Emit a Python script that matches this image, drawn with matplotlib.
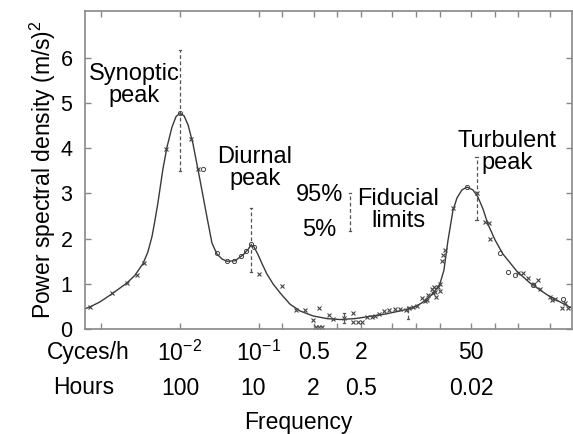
import numpy as np
import matplotlib
matplotlib.use("Agg")
import matplotlib.pyplot as plt

plt.rcParams['font.family'] = ['Liberation Sans', 'DejaVu Sans']

# smooth spectrum curve (frequency in cycles/h, PSD in (m/s)^2)
curve_f = [6.21e-4, 7.18e-4, 9.62e-4, 1.37e-3, 2.12e-3, 2.68e-3, 3.39e-3, 3.9e-3, 4.41e-3, 4.8e-3,
           5.25e-3, 5.65e-3, 6.08e-3, 6.84e-3, 7.91e-3, 8.89e-3, 0.0100, 0.01125, 0.01265,
           0.01462, 0.01795, 0.0220, 0.0255, 0.0295, 0.0342, 0.0395, 0.0500, 0.0632, 0.0731,
           0.0798, 0.0871, 0.0979, 0.110, 0.127, 0.152, 0.187, 0.250, 0.335, 0.490, 0.738, 1.08,
           1.67, 2.59, 4.03, 6.24, 9.14, 11.9, 15.0, 17.9, 20.1, 22.6, 25.4, 29.4, 33.1, 38.3,
           44.4, 52.8, 61.2, 70.8, 82.0, 101, 127, 191, 280, 460, 675, 957]
curve_s = [0.45, 0.49, 0.60, 0.78, 1.02, 1.19, 1.45, 1.70, 2.05, 2.40,
           2.80, 3.18, 3.55, 4.03, 4.47, 4.70, 4.78, 4.72, 4.52,
           4.10, 3.30, 2.48, 1.90, 1.66, 1.55, 1.50, 1.51, 1.64, 1.76,
           1.86, 1.82, 1.65, 1.45, 1.22, 1.00, 0.80, 0.55, 0.40, 0.29, 0.23, 0.21,
           0.23, 0.28, 0.33, 0.40, 0.47, 0.58, 0.72, 0.87, 1.00, 1.30, 1.95, 2.62, 2.90, 3.08,
           3.14, 3.08, 2.92, 2.66, 2.32, 1.97, 1.66, 1.28, 1.02, 0.76, 0.60, 0.46]

# measured estimates (x markers)
pts_f = [7.2e-4, 1.37e-3, 2.12e-3, 2.85e-3, 3.5e-3, 6.6e-3, 0.0138, 0.0169, 0.1, 0.2, 0.30,
         0.39, 0.49, 0.58, 0.53, 0.58, 0.63, 0.78, 0.88, 1.21, 1.58, 1.58, 1.83, 2.05, 2.38,
         2.75, 3.0, 3.4, 3.9, 4.5, 5.4, 6.2, 7.4, 8.1, 9.1, 10.2, 11.9, 12.9, 14.1, 15.9, 16.3,
         17.5, 13.8, 17.0, 17.8, 19.0, 20.0, 20.0, 21.4, 21.9, 23.3, 29.5, 59, 75, 85, 87, 197,
         229, 264, 320, 354, 375, 500, 533, 578, 780, 851, 714]
pts_s = [0.49, 0.80, 1.02, 1.19, 1.46, 3.98, 4.20, 3.54, 1.22, 0.95, 0.42,
         0.42, 0.20, 0.46, 0.04, 0.04, 0.04, 0.31, 0.22, 0.25, 0.35, 0.15, 0.15, 0.15, 0.27,
         0.27, 0.29, 0.33, 0.40, 0.42, 0.44, 0.44, 0.42, 0.46, 0.49, 0.51, 0.69, 0.62, 0.75, 0.88, 0.80,
         0.82, 0.64, 0.93, 0.71, 0.93, 1.00, 0.84, 1.50, 1.64, 1.75, 2.68, 3.01, 2.37, 2.35, 1.99, 1.24,
         1.24, 1.13, 1.00, 1.08, 0.88, 0.71, 0.64, 0.66, 0.57, 0.46, 0.46]

# measured estimates (circle markers)
circ_f = [0.01, 0.0196, 0.0295, 0.0396, 0.0486, 0.0596, 0.069, 0.0798, 0.087, 44, 116, 148, 182, 309, 737]
circ_s = [4.78, 3.54, 1.68, 1.50, 1.50, 1.61, 1.73, 1.88, 1.81, 3.14, 1.68, 1.26, 1.19, 0.97, 0.66]

# fiducial limits (5% .. 95%)
bar_f = [0.01, 0.0798, 1.21, 7.9, 59, 1.45]
bar_lo = [3.50, 1.26, 0.13, 0.22, 2.41, 2.17]
bar_hi = [6.17, 2.68, 0.35, 0.49, 3.81, 3.00]

xticks = [1e-3, 1e-2, 0.1, 0.2, 0.5, 1, 2, 5, 10, 20, 50, 100, 200, 500]
yticks = [0, 1, 2, 3, 4, 5, 6]
row_f = [1e-2, 1e-1, 0.5, 2, 50]
row_cycles = [r'$\mathregular{10^{-2}}$', r'$\mathregular{10^{-1}}$', '0.5', '2', '50']
hours_f = [1e-2, 0.085, 0.5, 2, 50]
row_hours = ['100', '10', '2', '0.5', '0.02']

fig = plt.figure(figsize=(5.73, 4.34), dpi=100)
ax = fig.add_axes([0.1483, 0.2419, 0.8497, 0.7328])

ax.plot(curve_f, curve_s, color='#3a3a3a', lw=1.0)
ax.plot(pts_f, pts_s, 'x', color='#444444', ms=2.5, mew=0.8)
ax.plot(circ_f, circ_s, 'o', mfc='none', mec='#444444', ms=3, mew=0.7)

for f, lo, hi in zip(bar_f, bar_lo, bar_hi):
    ax.plot([f, f], [lo, hi], color='#555555', lw=0.9, ls=(0, (3, 2)))
    ax.plot([f / 1.04, f * 1.04], [hi, hi], color='#555555', lw=0.9)
    ax.plot([f / 1.04, f * 1.04], [lo, lo], color='#555555', lw=0.9)

ax.set_xscale('log')
ax.set_xlim(6.2e-4, 955)
ax.set_ylim(0, 7.04)
ax.set_xticks(xticks)
ax.set_xticklabels([])
ax.minorticks_off()
ax.set_yticks(yticks)
ax.tick_params(axis='both', direction='in', length=4, color='#888888', width=1,
               top=True, right=True, labelsize=15.5)
ax.tick_params(axis='y', pad=9)
for sp in ax.spines.values():
    sp.set_color('#888888')
    sp.set_linewidth(1.2)

ax.set_ylabel(r'Power spectral density (m/s)$^{\mathregular{2}}$', fontsize=16.5, labelpad=2)

fs = 17
ax.text(2.61e-3, 5.40, 'Synoptic\npeak', ha='center', va='center', fontsize=fs, linespacing=1.0)
ax.text(0.0897, 3.56, 'Diurnal\npeak', ha='center', va='center', fontsize=fs, linespacing=1.0)
ax.text(143, 3.92, 'Turbulent\npeak', ha='center', va='center', fontsize=fs, linespacing=1.0)
ax.text(0.60, 2.96, '95%', ha='center', va='center', fontsize=fs)
ax.text(0.59, 2.19, '5%', ha='center', va='center', fontsize=fs)
ax.text(5.89, 2.63, 'Fiducial\nlimits', ha='center', va='center', fontsize=fs, linespacing=1.0)

rs = 16.5
trans = ax.get_xaxis_transform()
for f, c in zip(row_f, row_cycles):
    ax.text(f, -0.075, c, transform=trans, ha='center', va='center', fontsize=rs)
for f, h in zip(hours_f, row_hours):
    ax.text(f, -0.186, h, transform=trans, ha='center', va='center', fontsize=rs)
fig.text(88 / 573, 1 - 353 / 434, 'Cyces/h', ha='center', va='center', fontsize=rs)
fig.text(84 / 573, 1 - 388 / 434, 'Hours', ha='center', va='center', fontsize=rs)
fig.text(298 / 573, 1 - 422 / 434, 'Frequency', ha='center', va='center', fontsize=rs)

fig.savefig('out.png', dpi=100)
